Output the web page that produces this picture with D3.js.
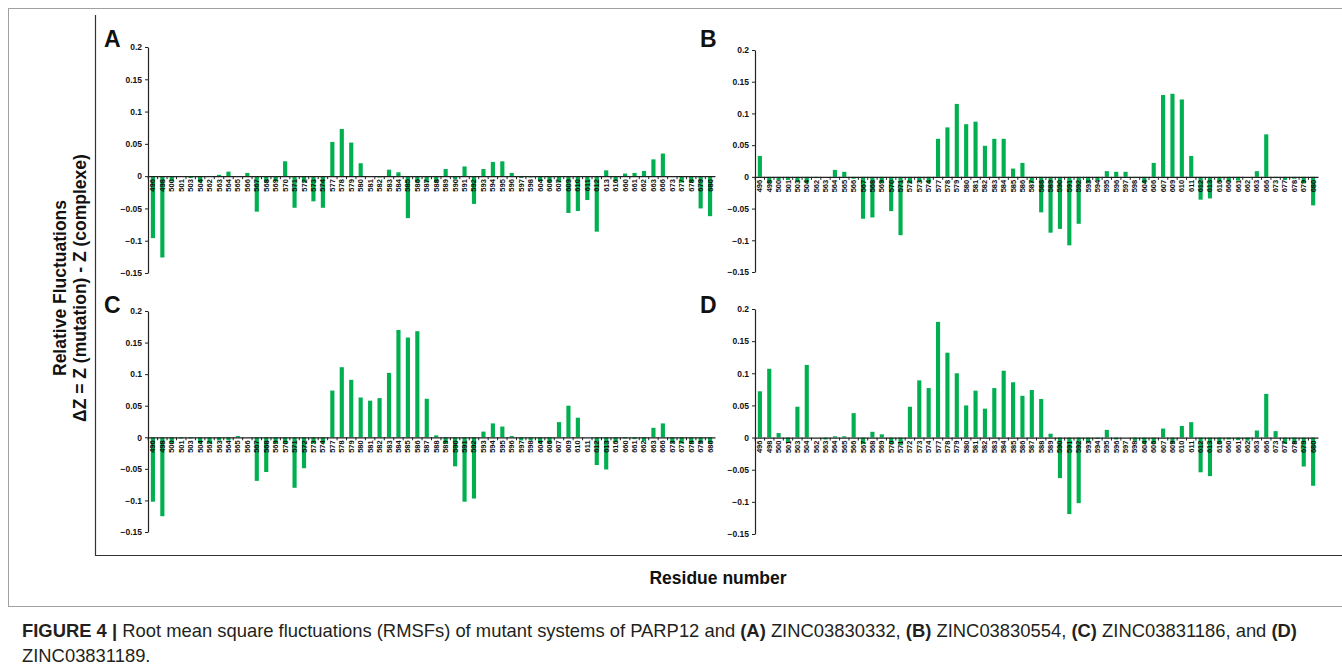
<!DOCTYPE html>
<html>
<head>
<meta charset="utf-8">
<script src="https://cdn.jsdelivr.net/npm/d3@7"></script>
<style>
  body { margin: 0; background: #fff; }
  svg { display: block; font-family: "Liberation Sans", Arial, sans-serif; }
</style>
</head>
<body>
<svg id="canvas" width="1342" height="670"></svg>
<script>
const residues = [496, 498, 500, 501, 503, 504, 562, 563, 564, 565, 566, 567, 568, 569, 570, 571, 572, 573, 574,
  577, 578, 579, 580, 581, 582, 583, 584, 585, 586, 587, 588, 589, 590, 591, 592, 593, 594, 595, 596, 597, 598,
  604, 606, 607, 609, 610, 611, 612, 613, 616, 660, 661, 662, 663, 666, 673, 677, 678, 679, 680];

const dzA = [-0.096, -0.126, -0.008, 0, -0.003, -0.01, 0, 0.002, 0.007, 0, 0.005, -0.055, -0.01, -0.008, 0.023, -0.049, -0.01, -0.039, -0.049,
  0.053, 0.073, 0.052, 0.02, 0, -0.002, 0.01, 0.006, -0.065, -0.01, -0.01, -0.01, 0.011, -0.005, 0.015, -0.043, 0.011, 0.022, 0.023, 0.005, -0.003, -0.002,
  -0.008, -0.01, -0.01, -0.057, -0.054, -0.037, -0.086, 0.009, -0.008, 0.004, 0.005, 0.008, 0.026, 0.035, 0, -0.01, -0.01, -0.05, -0.062];

const dzB = [0.033, -0.01, -0.005, -0.005, -0.008, -0.01, -0.002, 0, 0.011, 0.008, -0.003, -0.066, -0.064, -0.01, -0.054, -0.092, -0.01, -0.008, -0.01,
  0.06, 0.078, 0.115, 0.083, 0.087, 0.049, 0.06, 0.06, 0.013, 0.022, -0.01, -0.056, -0.088, -0.082, -0.108, -0.074, -0.01, -0.006, 0.009, 0.008, 0.008, -0.002,
  -0.01, 0.022, 0.129, 0.131, 0.122, 0.033, -0.036, -0.034, -0.008, -0.008, -0.006, 0, 0.009, 0.067, -0.002, -0.005, -0.003, -0.01, -0.045];

const dzC = [-0.102, -0.125, -0.01, -0.002, -0.002, -0.01, -0.01, -0.005, -0.005, 0.002, 0, -0.069, -0.055, -0.01, -0.01, -0.08, -0.049, -0.01, -0.01,
  0.074, 0.111, 0.091, 0.063, 0.058, 0.062, 0.102, 0.17, 0.158, 0.168, 0.061, 0.003, -0.01, -0.046, -0.102, -0.097, 0.009, 0.022, 0.017, 0.002, -0.005, -0.005,
  -0.01, -0.01, 0.024, 0.05, 0.031, 0, -0.044, -0.051, -0.008, -0.002, -0.003, -0.006, 0.015, 0.022, -0.01, -0.01, -0.01, -0.01, -0.01];

const dzD = [0.072, 0.107, 0.007, -0.008, 0.048, 0.113, 0, -0.003, 0.002, 0.002, 0.038, -0.01, 0.009, 0.005, -0.01, -0.012, 0.048, 0.089, 0.077,
  0.18, 0.132, 0.1, 0.05, 0.073, 0.045, 0.077, 0.104, 0.086, 0.065, 0.074, 0.06, 0.006, -0.063, -0.119, -0.102, -0.008, -0.002, 0.012, -0.003, 0, -0.005,
  -0.01, -0.01, 0.014, -0.01, 0.018, 0.024, -0.054, -0.06, -0.01, -0.003, -0.004, -0.005, 0.011, 0.068, 0.01, -0.01, -0.01, -0.045, -0.075];

const yTicks = [0.2, 0.15, 0.1, 0.05, 0, -0.05, -0.1, -0.15];
const panelLetters = ["A", "B", "C", "D"];
const panelValues = [dzA, dzB, dzC, dzD];

const barColor = "#00b050";
const canvas = d3.select("#canvas");

// outer figure frame
canvas.append("rect")
  .attr("x", 8.5).attr("y", 8.5)
  .attr("width", 1345).attr("height", 598)
  .attr("fill", "none").attr("stroke", "#a0a0a0").attr("stroke-width", 1);

// inner L frame
canvas.append("path")
  .attr("d", "M95.5,15 V555.5 H1342")
  .attr("fill", "none").attr("stroke", "#333").attr("stroke-width", 1.2);

const boxes = [
  {x0: 148, x1: 715, top: 47, bottom: 273, lx: 104, ly: 47},
  {x0: 755, x1: 1318, top: 50, bottom: 272, lx: 700, ly: 47},
  {x0: 148, x1: 715, top: 311, bottom: 532, lx: 104, ly: 313},
  {x0: 755, x1: 1318, top: 309, bottom: 534, lx: 700, ly: 313}
];

let drawPanel = (values, box, letter) => {
  const x = d3.scaleBand()
    .domain(residues.map(String))
    .range([box.x0, box.x1])
    .paddingInner(0.56)
    .paddingOuter(0.3);

  const y = d3.scaleLinear()
    .domain([-0.15, 0.2])
    .range([box.bottom, box.top]);

  const g = canvas.append("g");

  g.selectAll("rect.bar")
    .data(values)
    .enter()
    .append("rect")
    .attr("class", "bar")
    .attr("x", (d, i) => x(String(residues[i])))
    .attr("width", x.bandwidth())
    .attr("y", d => y(Math.max(0, d)))
    .attr("height", d => Math.abs(y(d) - y(0)))
    .attr("fill", barColor);

  const yAxis = d3.axisLeft(y)
    .tickValues(yTicks)
    .tickFormat(d => d3.format("")(+d.toFixed(2)))
    .tickSize(3)
    .tickSizeOuter(0);

  const ya = g.append("g")
    .attr("transform", `translate(${box.x0}, 0)`)
    .call(yAxis);
  ya.select(".domain").attr("stroke", "#222").attr("stroke-width", 1.2);
  ya.selectAll(".tick line").attr("stroke", "#222");
  ya.selectAll("text")
    .attr("font-size", 8.5)
    .attr("font-weight", "bold")
    .attr("fill", "#111")
    .attr("x", -6);

  // x axis on the zero line
  const xa = g.append("g")
    .attr("transform", `translate(0, ${y(0)})`)
    .call(d3.axisBottom(x).tickSize(0).tickSizeOuter(0));
  xa.select(".domain").attr("stroke", "#222").attr("stroke-width", 1.2);
  xa.selectAll("text")
    .attr("font-size", 7.5)
    .attr("font-weight", "bold")
    .attr("fill", "#111")
    .attr("transform", "rotate(-90)")
    .attr("text-anchor", "end")
    .attr("dominant-baseline", "central")
    .attr("x", -3)
    .attr("y", 0)
    .attr("dy", 0);

  // small separators between categories
  const step = x.step();
  g.selectAll("line.sep")
    .data(residues)
    .enter()
    .append("line")
    .attr("class", "sep")
    .attr("x1", d => x(String(d)) - (step - x.bandwidth()) / 2)
    .attr("x2", d => x(String(d)) - (step - x.bandwidth()) / 2)
    .attr("y1", y(0))
    .attr("y2", y(0) + 3)
    .attr("stroke", "#222");

  canvas.append("text")
    .attr("x", box.lx)
    .attr("y", box.ly)
    .attr("font-size", 23)
    .attr("font-weight", "bold")
    .attr("fill", "#111")
    .text(letter);
};

panelValues.forEach((vals, i) => drawPanel(vals, boxes[i], panelLetters[i]));

// axis titles
const yt = canvas.append("text")
  .attr("transform", "translate(66, 288) rotate(-90)")
  .attr("text-anchor", "middle")
  .attr("font-size", 17.5)
  .attr("font-weight", "bold")
  .attr("fill", "#111");
yt.append("tspan").attr("x", 0).attr("dy", 0).text("Relative Fluctuations");
yt.append("tspan").attr("x", 0).attr("dy", 20).text("ΔZ = Z (mutation) - Z (complexe)");

canvas.append("text")
  .attr("x", 718)
  .attr("y", 584)
  .attr("text-anchor", "middle")
  .attr("font-size", 17.5)
  .attr("font-weight", "bold")
  .attr("fill", "#111")
  .text("Residue number");

// caption
const cap1 = canvas.append("text")
  .attr("x", 22).attr("y", 637)
  .attr("font-size", 18.4)
  .attr("fill", "#231f20");
cap1.append("tspan").attr("font-weight", "bold").text("FIGURE 4 | ");
cap1.append("tspan").text("Root mean square fluctuations (RMSFs) of mutant systems of PARP12 and ");
cap1.append("tspan").attr("font-weight", "bold").text("(A)");
cap1.append("tspan").text(" ZINC03830332, ");
cap1.append("tspan").attr("font-weight", "bold").text("(B)");
cap1.append("tspan").text(" ZINC03830554, ");
cap1.append("tspan").attr("font-weight", "bold").text("(C)");
cap1.append("tspan").text(" ZINC03831186, and ");
cap1.append("tspan").attr("font-weight", "bold").text("(D)");

canvas.append("text")
  .attr("x", 22).attr("y", 662)
  .attr("font-size", 18.4)
  .attr("fill", "#231f20")
  .text("ZINC03831189.");
</script>
</body>
</html>
